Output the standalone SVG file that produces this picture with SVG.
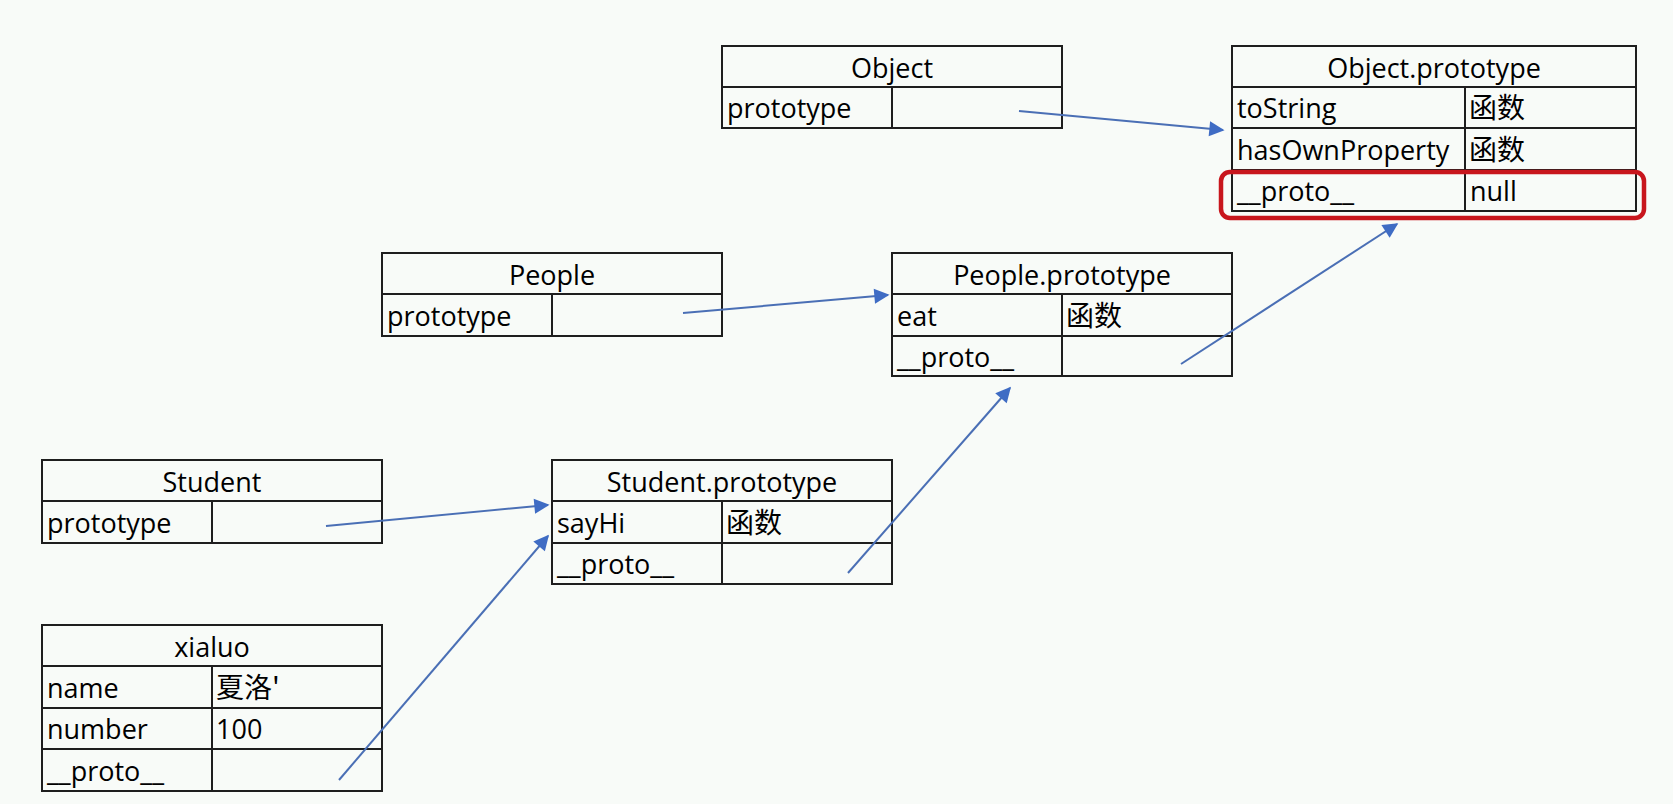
<svg xmlns="http://www.w3.org/2000/svg" width="1673" height="804" viewBox="0 0 1673 804">
<style>
.bg{fill:#f8fbf8}
.cell{fill:none;stroke:#1e1e1e;stroke-width:2}
.t{font-family:"Open Sans","Noto Sans",sans-serif;font-size:27px;fill:#000}
.h{text-anchor:middle}
.cjk{font-family:"Noto Sans CJK SC",sans-serif;font-size:28px;fill:#000}
.conn{stroke:#4a6fb5;stroke-width:2;fill:none;marker-end:url(#ah)}
.hl{fill:none;stroke:#c8161d;stroke-width:4.5}
</style>
<defs>
<marker id="ah" viewBox="0 0 10 10" refX="9" refY="5" markerWidth="9" markerHeight="8" markerUnits="userSpaceOnUse" orient="auto" overflow="visible">
<path d="M0,0 L10,5 L0,10 Z" fill="#3f6cc4" transform="scale(1.9)" transform-origin="9 5"/>
</marker>
</defs>
<rect class="bg" x="0" y="0" width="1673" height="804"/>

<g id="object">
<rect class="cell" x="722" y="46" width="340" height="82"/>
<line class="cell" x1="722" y1="87" x2="1062" y2="87"/>
<line class="cell" x1="892" y1="87" x2="892" y2="128"/>
<text class="t h" x="892" y="78">Object</text>
<text class="t" x="727" y="118">prototype</text>
</g>

<g id="object-prototype">
<rect class="cell" x="1232" y="46" width="404" height="165"/>
<line class="cell" x1="1232" y1="87" x2="1636" y2="87"/>
<line class="cell" x1="1232" y1="128" x2="1636" y2="128"/>
<line class="cell" x1="1232" y1="170" x2="1636" y2="170"/>
<line class="cell" x1="1465" y1="87" x2="1465" y2="211"/>
<text class="t h" x="1434" y="78">Object.prototype</text>
<text class="t" x="1237" y="118">toString</text>
<text class="cjk" x="1469" y="118">函数</text>
<text class="t" x="1237" y="160">hasOwnProperty</text>
<text class="cjk" x="1469" y="160">函数</text>
<text class="t" x="1237" y="201">__proto__</text>
<text class="t" x="1470" y="201">null</text>
<rect class="hl" x="1221" y="172" width="423" height="46" rx="9"/>
</g>

<g id="people">
<rect class="cell" x="382" y="253" width="340" height="83"/>
<line class="cell" x1="382" y1="294" x2="722" y2="294"/>
<line class="cell" x1="552" y1="294" x2="552" y2="336"/>
<text class="t h" x="552" y="285">People</text>
<text class="t" x="387" y="326">prototype</text>
</g>

<g id="people-prototype">
<rect class="cell" x="892" y="253" width="340" height="123"/>
<line class="cell" x1="892" y1="294" x2="1232" y2="294"/>
<line class="cell" x1="892" y1="336" x2="1232" y2="336"/>
<line class="cell" x1="1062" y1="294" x2="1062" y2="376"/>
<text class="t h" x="1062" y="285">People.prototype</text>
<text class="t" x="897" y="326">eat</text>
<text class="cjk" x="1066" y="326">函数</text>
<text class="t" x="897" y="367">__proto__</text>
</g>

<g id="student">
<rect class="cell" x="42" y="460" width="340" height="83"/>
<line class="cell" x1="42" y1="501" x2="382" y2="501"/>
<line class="cell" x1="212" y1="501" x2="212" y2="543"/>
<text class="t h" x="212" y="492">Student</text>
<text class="t" x="47" y="533">prototype</text>
</g>

<g id="student-prototype">
<rect class="cell" x="552" y="460" width="340" height="124"/>
<line class="cell" x1="552" y1="501" x2="892" y2="501"/>
<line class="cell" x1="552" y1="543" x2="892" y2="543"/>
<line class="cell" x1="722" y1="501" x2="722" y2="584"/>
<text class="t h" x="722" y="492">Student.prototype</text>
<text class="t" x="557" y="533">sayHi</text>
<text class="cjk" x="726" y="533">函数</text>
<text class="t" x="557" y="574">__proto__</text>
</g>

<g id="xialuo">
<rect class="cell" x="42" y="625" width="340" height="166"/>
<line class="cell" x1="42" y1="666" x2="382" y2="666"/>
<line class="cell" x1="42" y1="708" x2="382" y2="708"/>
<line class="cell" x1="42" y1="749" x2="382" y2="749"/>
<line class="cell" x1="212" y1="666" x2="212" y2="791"/>
<text class="t h" x="212" y="657">xialuo</text>
<text class="t" x="47" y="698">name</text>
<text class="cjk" x="216" y="698">夏洛'</text>
<text class="t" x="47" y="739">number</text>
<text class="t" x="216" y="739">100</text>
<text class="t" x="47" y="781">__proto__</text>
</g>

<g id="connectors">
<line class="conn" x1="1019" y1="111" x2="1223" y2="130"/>
<line class="conn" x1="683" y1="313" x2="888" y2="295"/>
<line class="conn" x1="1181" y1="364" x2="1397" y2="224"/>
<line class="conn" x1="326" y1="526" x2="548" y2="505"/>
<line class="conn" x1="848" y1="573" x2="1010" y2="388"/>
<line class="conn" x1="339" y1="780" x2="548" y2="536"/>
</g>
</svg>
